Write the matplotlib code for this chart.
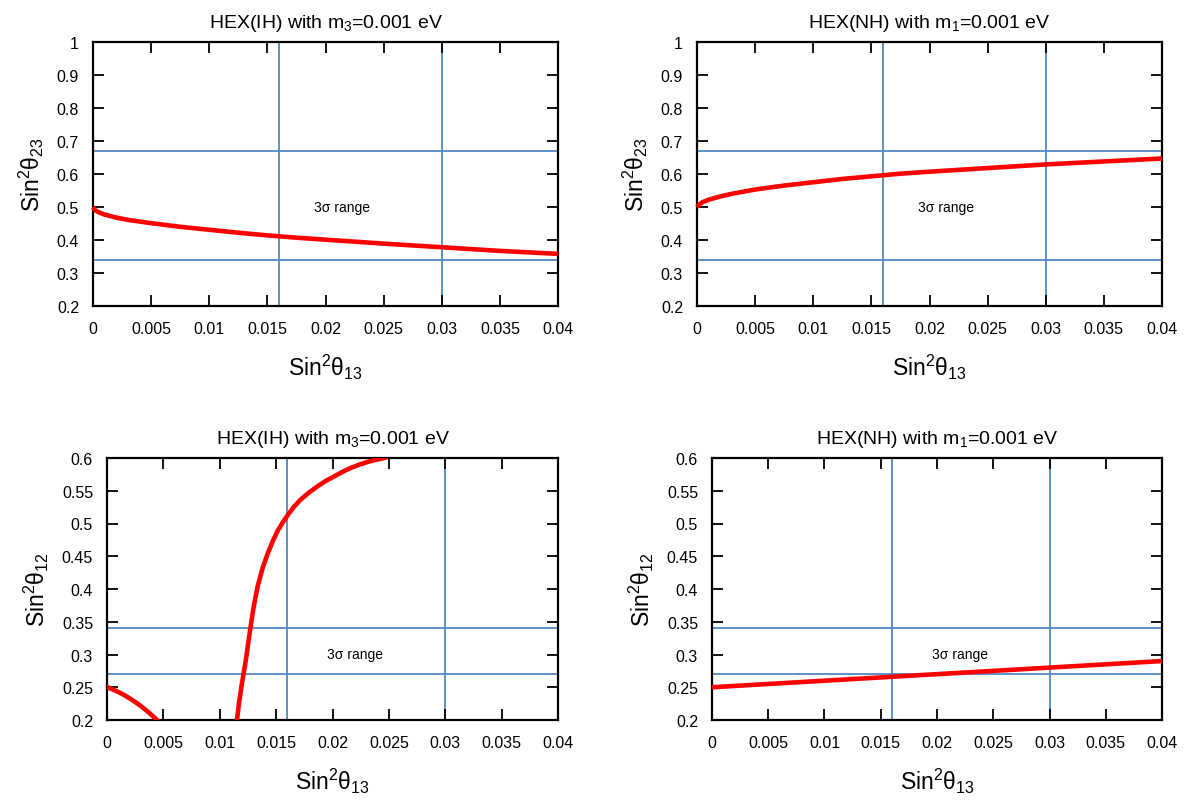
import matplotlib
matplotlib.use("Agg")
import matplotlib.pyplot as plt

plt.rcParams['font.family'] = ['Liberation Sans', 'DejaVu Sans']
plt.rcParams['mathtext.fontset'] = 'custom'
plt.rcParams['mathtext.rm'] = 'Liberation Sans'
plt.rcParams['mathtext.it'] = 'Liberation Sans'
plt.rcParams['mathtext.default'] = 'regular'

# ---- data ----
s13 = [0, 0.0002, 0.0005, 0.001, 0.002, 0.003, 0.005, 0.0075, 0.01, 0.0125,
       0.015, 0.0175, 0.02, 0.025, 0.03, 0.035, 0.04]
ih_s23 = [0.5, 0.49, 0.484, 0.477, 0.468, 0.461, 0.451, 0.44, 0.431, 0.422,
          0.414, 0.407, 0.401, 0.389, 0.378, 0.367, 0.358]
nh_s23 = [0.5, 0.508, 0.515, 0.522, 0.532, 0.54, 0.553, 0.565, 0.575, 0.585,
          0.593, 0.601, 0.607, 0.618, 0.629, 0.638, 0.647]

ih_s12_a_x = [0, 0.0005, 0.001, 0.0015, 0.002, 0.0025, 0.003, 0.0035, 0.004, 0.00443]
ih_s12_a_y = [0.2504, 0.2467, 0.2428, 0.2383, 0.2332, 0.2275, 0.2213, 0.2144, 0.207, 0.2]
ih_s12_b_x = [0.01153, 0.0117, 0.01194, 0.0123, 0.01271, 0.013, 0.01336, 0.0138,
              0.01425, 0.0147, 0.01514, 0.0156, 0.01608, 0.0166, 0.01721, 0.0179,
              0.01869, 0.0194, 0.02016, 0.0209, 0.02164, 0.0224, 0.02312, 0.0239, 0.0246]
ih_s12_b_y = [0.2, 0.225, 0.2528, 0.29, 0.3395, 0.372, 0.404, 0.432,
              0.454, 0.473, 0.489, 0.502, 0.514, 0.526, 0.537, 0.547,
              0.557, 0.565, 0.572, 0.579, 0.585, 0.590, 0.594, 0.5975, 0.6]

nh_s12_x = [0, 0.01, 0.02, 0.03, 0.04]
nh_s12_y = [0.25, 0.26, 0.27, 0.28, 0.29]

xlim = (0, 0.04)
xticks = [0, 0.005, 0.01, 0.015, 0.02, 0.025, 0.03, 0.035, 0.04]
xticklabels = ['0', '0.005', '0.01', '0.015', '0.02', '0.025', '0.03', '0.035', '0.04']
s23_lim = (0.2, 1.0)
s23_ticks = [0.2, 0.3, 0.4, 0.5, 0.6, 0.7, 0.8, 0.9, 1.0]
s23_ticklabels = ['0.2', '0.3', '0.4', '0.5', '0.6', '0.7', '0.8', '0.9', '1']
s12_lim = (0.2, 0.6)
s12_ticks = [0.2, 0.25, 0.3, 0.35, 0.4, 0.45, 0.5, 0.55, 0.6]
s12_ticklabels = ['0.2', '0.25', '0.3', '0.35', '0.4', '0.45', '0.5', '0.55', '0.6']

s13_bounds = [0.016, 0.03]
s23_bounds = [0.34, 0.67]
s12_bounds = [0.27, 0.34]

title_ih = 'HEX(IH) with m$_3$=0.001 eV'
title_nh = 'HEX(NH) with m$_1$=0.001 eV'
xlabel = 'Sin$^2\\theta_{13}$'
ylabel23 = 'Sin$^2\\theta_{23}$'
ylabel12 = 'Sin$^2\\theta_{12}$'
note = '3\u03c3 range'

RED = '#ff0000'
BLUE = '#5088bf'

fig = plt.figure(figsize=(11.85, 8.04), dpi=100)
W, H = 1185, 804


def make_ax(l, r, t, b):
    return fig.add_axes([l / W, 1 - b / H, (r - l) / W, (b - t) / H])


axes = [
    make_ax(93, 558, 43, 307),
    make_ax(697, 1162, 43, 307),
    make_ax(107, 558, 459, 721),
    make_ax(712, 1162, 459, 721),
]


def style(ax, ylim, yticks, yticklabels, title, ylabel, hb, note_xy):
    ax.set_xlim(*xlim)
    ax.set_ylim(*ylim)
    ax.set_xticks(xticks)
    ax.set_xticklabels(xticklabels)
    ax.set_yticks(yticks)
    ax.set_yticklabels(yticklabels)
    ax.tick_params(direction='in', length=8, width=1.3, top=True, right=True,
                   labelsize=11.5, colors='black')
    ax.tick_params(axis='x', pad=11)
    ax.tick_params(axis='y', pad=10)
    for sp in ax.spines.values():
        sp.set_linewidth(1.6)
    for xv in s13_bounds:
        ax.axvline(xv, color=BLUE, lw=1.3, zorder=1)
    for yv in hb:
        ax.axhline(yv, color=BLUE, lw=1.3, zorder=1)
    ax.set_title(title, fontsize=14, pad=11)
    ax.set_xlabel(xlabel, fontsize=16.5, labelpad=11)
    ax.set_ylabel(ylabel, fontsize=16.5, labelpad=8)
    ax.text(note_xy[0], note_xy[1], note, fontsize=10, ha='center', va='center')


style(axes[0], s23_lim, s23_ticks, s23_ticklabels, title_ih, ylabel23, s23_bounds, (0.0214, 0.5))
style(axes[1], s23_lim, s23_ticks, s23_ticklabels, title_nh, ylabel23, s23_bounds, (0.0214, 0.5))
style(axes[2], s12_lim, s12_ticks, s12_ticklabels, title_ih, ylabel12, s12_bounds, (0.022, 0.3))
style(axes[3], s12_lim, s12_ticks, s12_ticklabels, title_nh, ylabel12, s12_bounds, (0.022, 0.3))

LW = 3.3
axes[0].plot(s13, ih_s23, color=RED, lw=LW, zorder=3, clip_on=False, solid_capstyle='butt', solid_joinstyle='round')
axes[1].plot(s13, nh_s23, color=RED, lw=LW, zorder=3, clip_on=False, solid_capstyle='butt', solid_joinstyle='round')
axes[2].plot(ih_s12_a_x, ih_s12_a_y, color=RED, lw=LW, zorder=3, solid_joinstyle='round')
axes[2].plot(ih_s12_b_x, ih_s12_b_y, color=RED, lw=LW, zorder=3, solid_joinstyle='round')
axes[3].plot(nh_s12_x, nh_s12_y, color=RED, lw=LW, zorder=3, clip_on=False, solid_capstyle='butt')

fig.savefig('out.png', dpi=100)
